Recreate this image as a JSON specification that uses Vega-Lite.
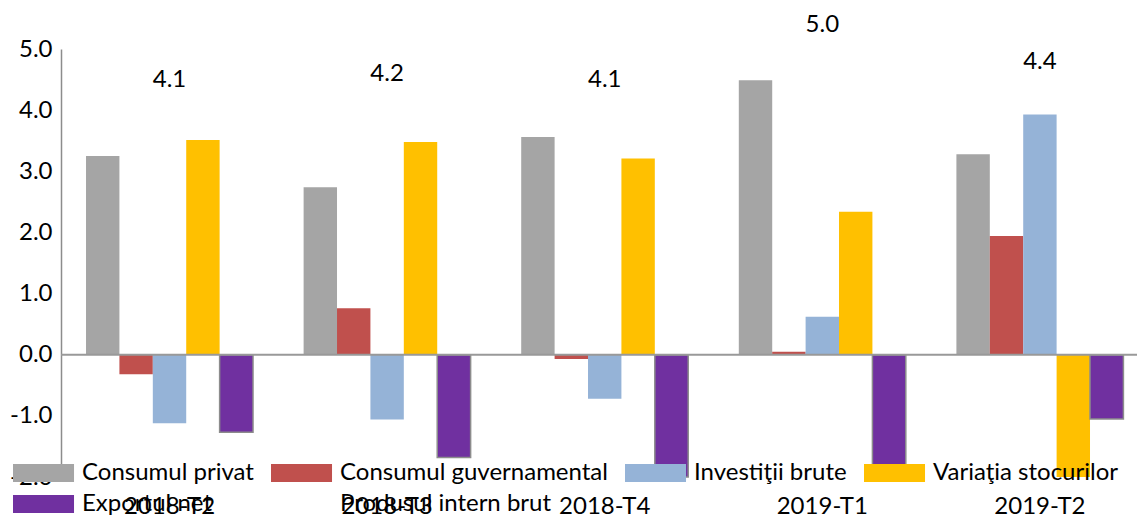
{
  "$schema": "https://vega.github.io/schema/vega-lite/v6.json",
  "width": 1076,
  "height": 428,
  "autosize": {"type": "none"},
  "padding": {"left": 61, "top": 49, "right": 0, "bottom": 40},
  "config": {
    "font": "Lato",
    "view": {"stroke": null},
    "axis": {"labelFont": "Lato", "labelFontSize": 24, "labelColor": "#000000"},
    "text": {"font": "Lato", "color": "#000000"},
    "legend": {
      "orient": "none",
      "legendX": -51,
      "legendY": 412,
      "direction": "horizontal",
      "columns": 4,
      "symbolType": "M-1,-1L5.78,-1L5.78,1L-1,1Z",
      "symbolSize": 324,
      "symbolStrokeWidth": 0,
      "labelFont": "Lato",
      "labelFontSize": 24,
      "labelColor": "#000000",
      "labelLimit": 600,
      "labelOffset": 48,
      "columnPadding": 14,
      "rowPadding": 7,
      "padding": 0,
      "gridAlign": "each"
    }
  },
  "datasets": {
    "bars": [
      {"quarter": "2018-T2", "series": "Consumul privat", "value": 3.25},
      {"quarter": "2018-T2", "series": "Consumul guvernamental", "value": -0.32},
      {"quarter": "2018-T2", "series": "Investiţii brute", "value": -1.12},
      {"quarter": "2018-T2", "series": "Variaţia stocurilor", "value": 3.51},
      {"quarter": "2018-T2", "series": "Exportul net", "value": -1.27},
      {"quarter": "2018-T3", "series": "Consumul privat", "value": 2.74},
      {"quarter": "2018-T3", "series": "Consumul guvernamental", "value": 0.76},
      {"quarter": "2018-T3", "series": "Investiţii brute", "value": -1.06},
      {"quarter": "2018-T3", "series": "Variaţia stocurilor", "value": 3.48},
      {"quarter": "2018-T3", "series": "Exportul net", "value": -1.68},
      {"quarter": "2018-T4", "series": "Consumul privat", "value": 3.56},
      {"quarter": "2018-T4", "series": "Consumul guvernamental", "value": -0.07},
      {"quarter": "2018-T4", "series": "Investiţii brute", "value": -0.72},
      {"quarter": "2018-T4", "series": "Variaţia stocurilor", "value": 3.21},
      {"quarter": "2018-T4", "series": "Exportul net", "value": -2.0},
      {"quarter": "2019-T1", "series": "Consumul privat", "value": 4.49},
      {"quarter": "2019-T1", "series": "Consumul guvernamental", "value": 0.05},
      {"quarter": "2019-T1", "series": "Investiţii brute", "value": 0.62},
      {"quarter": "2019-T1", "series": "Variaţia stocurilor", "value": 2.34},
      {"quarter": "2019-T1", "series": "Exportul net", "value": -2.0},
      {"quarter": "2019-T2", "series": "Consumul privat", "value": 3.28},
      {"quarter": "2019-T2", "series": "Consumul guvernamental", "value": 1.94},
      {"quarter": "2019-T2", "series": "Investiţii brute", "value": 3.93},
      {"quarter": "2019-T2", "series": "Variaţia stocurilor", "value": -2.0},
      {"quarter": "2019-T2", "series": "Exportul net", "value": -1.05}
    ],
    "pib": [
      {"quarter": "2018-T2", "series": "Produsul intern brut", "value": 4.1},
      {"quarter": "2018-T3", "series": "Produsul intern brut", "value": 4.2},
      {"quarter": "2018-T4", "series": "Produsul intern brut", "value": 4.1},
      {"quarter": "2019-T1", "series": "Produsul intern brut", "value": 5.0},
      {"quarter": "2019-T2", "series": "Produsul intern brut", "value": 4.4}
    ],
    "zero": [{"level": 0}]
  },
  "layer": [
    {
      "data": {"name": "bars"},
      "mark": {"type": "bar", "strokeWidth": 1.5},
      "encoding": {
        "x": {
          "field": "quarter",
          "type": "nominal",
          "sort": ["2018-T2", "2018-T3", "2018-T4", "2019-T1", "2019-T2"],
          "scale": {"paddingInner": 0.2325, "paddingOuter": 0.0887, "align": 0.648},
          "axis": {"title": null, "orient": "bottom", "domain": false, "ticks": false, "labelPadding": 17, "labelAngle": 0, "labelFontSize": 24}
        },
        "xOffset": {
          "field": "series",
          "type": "nominal",
          "sort": ["Consumul privat", "Consumul guvernamental", "Investiţii brute", "Variaţia stocurilor", "Exportul net"],
          "scale": {"paddingInner": 0, "paddingOuter": 0}
        },
        "y": {
          "field": "value",
          "type": "quantitative",
          "scale": {"domain": [-2, 5], "nice": false, "zero": false},
          "axis": {
            "title": null,
            "values": [-2, -1, 0, 1, 2, 3, 4, 5],
            "labelExpr": "(datum.value < 0 ? '-' : '') + format(abs(datum.value), '.1f')",
            "ticks": false,
            "grid": false,
            "domainColor": "#8c8c8c",
            "domainWidth": 1.5,
            "labelPadding": 9,
            "labelFontSize": 24
          }
        },
        "color": {
          "field": "series",
          "type": "nominal",
          "scale": {
            "domain": ["Consumul privat", "Consumul guvernamental", "Investiţii brute", "Variaţia stocurilor", "Exportul net", "Produsul intern brut"],
            "range": ["#A5A5A5", "#C0504D", "#95B3D7", "#FFC000", "#7030A0", "transparent"]
          },
          "legend": {"title": null}
        },
        "stroke": {
          "field": "series",
          "type": "nominal",
          "scale": {
            "domain": ["Consumul privat", "Consumul guvernamental", "Investiţii brute", "Variaţia stocurilor", "Exportul net"],
            "range": ["transparent", "transparent", "transparent", "transparent", "#8c8c8c"]
          },
          "legend": null
        }
      }
    },
    {
      "data": {"name": "zero"},
      "mark": {"type": "rule", "color": "#999999", "strokeWidth": 2},
      "encoding": {"y": {"field": "level", "type": "quantitative"}}
    },
    {
      "data": {"name": "pib"},
      "mark": {"type": "text", "dy": -24, "fontSize": 24, "baseline": "middle", "align": "center"},
      "encoding": {
        "x": {"field": "quarter", "type": "nominal", "sort": ["2018-T2", "2018-T3", "2018-T4", "2019-T1", "2019-T2"]},
        "y": {"field": "value", "type": "quantitative"},
        "text": {"field": "value", "type": "quantitative", "format": ".1f"}
      }
    }
  ]
}
